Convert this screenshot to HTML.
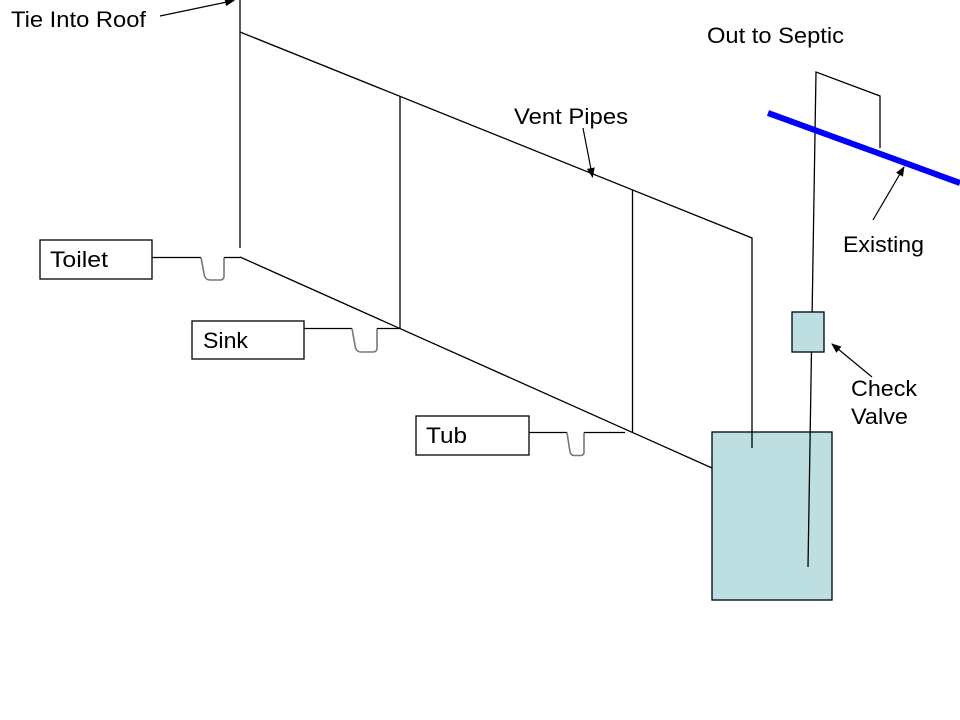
<!DOCTYPE html>
<html>
<head>
<meta charset="utf-8">
<style>
html,body{margin:0;padding:0;background:#fff;}
svg{display:block;}
text{font-family:"Liberation Sans",Arial,sans-serif;font-size:22px;fill:#000;}
</style>
</head>
<body>
<svg width="960" height="720" viewBox="0 0 960 720" xmlns="http://www.w3.org/2000/svg">
<defs>
<marker id="ah" markerWidth="10" markerHeight="10" refX="9" refY="5" orient="auto" markerUnits="userSpaceOnUse">
<path d="M0,1 L10,5 L0,9 Z" fill="#000"/>
</marker>
</defs>
<rect width="960" height="720" fill="#fff"/>

<!-- Tank -->
<rect x="712" y="432" width="120" height="168" fill="#bddfe2" stroke="#000" stroke-width="1.3"/>

<!-- Main vent stack -->
<line x1="240" y1="0" x2="240" y2="248" stroke="#000" stroke-width="1.3"/>
<!-- Top vent diagonal -->
<polyline points="240,32 752,238 752,448" fill="none" stroke="#000" stroke-width="1.3"/>
<!-- vertical vents -->
<line x1="400" y1="96" x2="400" y2="328" stroke="#000" stroke-width="1.3"/>
<line x1="632.5" y1="190" x2="632.5" y2="432" stroke="#000" stroke-width="1.3"/>
<!-- Bottom drain diagonal -->
<line x1="240" y1="257" x2="712" y2="468" stroke="#000" stroke-width="1.3"/>

<!-- Toilet -->
<rect x="40" y="240" width="112" height="39" fill="#fff" stroke="#000" stroke-width="1.3"/>
<text x="50" y="267" textLength="58" lengthAdjust="spacingAndGlyphs">Toilet</text>
<line x1="152" y1="257.5" x2="201" y2="257.5" stroke="#000" stroke-width="1.3"/>
<path d="M201,257.5 L204.5,276 Q206,280 210,280 L220,280 Q224,280 224,276 L224,257.5" fill="none" stroke="#777" stroke-width="1.6"/>
<line x1="224" y1="257.5" x2="240" y2="257.5" stroke="#000" stroke-width="1.3"/>

<!-- Sink -->
<rect x="192" y="321" width="112" height="38" fill="#fff" stroke="#000" stroke-width="1.3"/>
<text x="203" y="348" textLength="45" lengthAdjust="spacingAndGlyphs">Sink</text>
<line x1="304" y1="328.5" x2="352" y2="328.5" stroke="#000" stroke-width="1.3"/>
<path d="M352,328.5 L355.5,348 Q357,352 361,352 L373,352 Q377,352 377,348 L377,328.5" fill="none" stroke="#777" stroke-width="1.6"/>
<line x1="377" y1="328.5" x2="400" y2="328.5" stroke="#000" stroke-width="1.3"/>

<!-- Tub -->
<rect x="416" y="416" width="113" height="39" fill="#fff" stroke="#000" stroke-width="1.3"/>
<text x="426" y="443" textLength="41" lengthAdjust="spacingAndGlyphs">Tub</text>
<line x1="529" y1="432.5" x2="567" y2="432.5" stroke="#000" stroke-width="1.3"/>
<path d="M567,432.5 L570,452 Q571,455.5 574.5,455.5 L580.5,455.5 Q584,455.5 584,452 L584,432.5" fill="none" stroke="#777" stroke-width="1.6"/>
<line x1="584" y1="432.5" x2="625" y2="432.5" stroke="#000" stroke-width="1.3"/>

<!-- Outlet pipe to septic -->
<polyline points="880,148 880,96 816,72 808,567" fill="none" stroke="#000" stroke-width="1.3"/>

<!-- Existing blue line -->
<line x1="768" y1="113" x2="960" y2="183" stroke="#0000ff" stroke-width="6"/>

<!-- Check valve -->
<rect x="792" y="312" width="32" height="40" fill="#bddfe2" stroke="#000" stroke-width="1.3"/>

<!-- Labels -->
<text x="11" y="27" textLength="135" lengthAdjust="spacingAndGlyphs">Tie Into Roof</text>
<line x1="160" y1="16" x2="234" y2="0.5" stroke="#000" stroke-width="1.2" marker-end="url(#ah)"/>

<text x="514" y="124" textLength="114" lengthAdjust="spacingAndGlyphs">Vent Pipes</text>
<line x1="583" y1="128" x2="592.5" y2="177" stroke="#000" stroke-width="1.2" marker-end="url(#ah)"/>

<text x="707" y="43" textLength="137" lengthAdjust="spacingAndGlyphs">Out to Septic</text>

<text x="843" y="252" textLength="81" lengthAdjust="spacingAndGlyphs">Existing</text>
<line x1="873" y1="220" x2="904" y2="167" stroke="#000" stroke-width="1.2" marker-end="url(#ah)"/>

<text x="851" y="396" textLength="66" lengthAdjust="spacingAndGlyphs">Check</text>
<text x="851" y="424" textLength="57" lengthAdjust="spacingAndGlyphs">Valve</text>
<line x1="872" y1="377" x2="832" y2="344" stroke="#000" stroke-width="1.2" marker-end="url(#ah)"/>
</svg>
</body>
</html>
